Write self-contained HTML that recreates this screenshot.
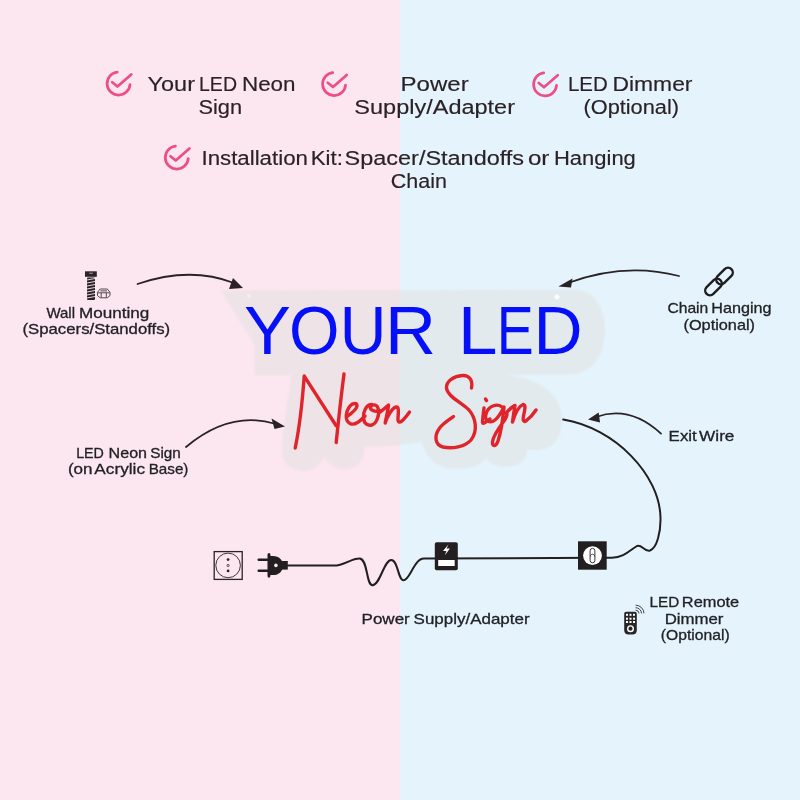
<!DOCTYPE html>
<html><head><meta charset="utf-8">
<style>
html,body{margin:0;padding:0;width:800px;height:800px;overflow:hidden;}
svg{display:block;will-change:transform;}
text{font-family:"Liberation Sans",sans-serif;}
.t{fill:#2a2226;font-size:19.5px;stroke:#2a2226;stroke-width:0.15px;}
.l{fill:#222226;font-size:15px;stroke:#222226;stroke-width:0.3px;}
.ck{fill:none;stroke:#ee4e86;stroke-width:2.6;stroke-linecap:round;stroke-linejoin:round;}
.ar{fill:none;stroke:#2a2226;stroke-width:1.8;stroke-linecap:round;}
.ah{fill:#2a2226;}
.w{fill:none;stroke:#231f20;stroke-width:2;stroke-linecap:round;stroke-linejoin:round;}
.neon{fill:none;stroke:#e0242c;stroke-width:3.4;stroke-linecap:round;stroke-linejoin:round;}
</style></head>
<body>
<svg width="800" height="800" viewBox="0 0 800 800">
  <rect x="0" y="0" width="400" height="800" fill="#fce6ef"/>
  <rect x="400" y="0" width="400" height="800" fill="#e5f4fc"/>

  <!-- checklist -->
  <g transform="translate(118.60,83.60) scale(1.05)">
    <path class="ck" d="M-1.3,-10.9 A10.95,10.95 0 1 0 10.9,0.9"/>
    <path class="ck" d="M-6.05,-1.3 L-1.05,2.75 L12.05,-8.7"/>
  </g>
  <g transform="translate(334.10,84.10) scale(1.05)">
    <path class="ck" d="M-1.3,-10.9 A10.95,10.95 0 1 0 10.9,0.9"/>
    <path class="ck" d="M-6.05,-1.3 L-1.05,2.75 L12.05,-8.7"/>
  </g>
  <g transform="translate(545.10,84.40) scale(1.05)">
    <path class="ck" d="M-1.3,-10.9 A10.95,10.95 0 1 0 10.9,0.9"/>
    <path class="ck" d="M-6.05,-1.3 L-1.05,2.75 L12.05,-8.7"/>
  </g>
  <g transform="translate(176.80,157.60) scale(1.05)">
    <path class="ck" d="M-1.3,-10.9 A10.95,10.95 0 1 0 10.9,0.9"/>
    <path class="ck" d="M-6.05,-1.3 L-1.05,2.75 L12.05,-8.7"/>
  </g>


  <!-- sign backing -->
  <defs><filter id="soft" x="-5%" y="-5%" width="110%" height="110%"><feGaussianBlur stdDeviation="0.8"/></filter></defs>
  <path filter="url(#soft)" fill="#e0e0e0" fill-opacity="0.5" d="M221,290.5 L575,289.5 C593,289.5 605,306 605,330 C605,356 592,375 567,375 L500,375 C540,376 562,395 562,420 C562,436 556,447 541,450 C536,451 530,450 527,450 C527,462 517,467 505,467 C495,467 489,463 486,458 C483,465 470,469 455,469 C438,469 425,458 422,442 C410,444 395,446 364,447 C364,464 355,469 344,469 C334,469 327,463 324,456 C321,464 314,471 304,471 C290,471 282,461 282,450 C283,428 288,400 291.5,375 L254.5,375 L254.5,344 Z"/>
  <circle cx="557" cy="297" r="2.5" fill="#ffffff" fill-opacity="0.85"/>
  <circle cx="249" cy="296" r="2" fill="#ffffff" fill-opacity="0.4"/>

  <g font-size="68.5" fill="#0510f8"><text x="244.07" y="353.8" textLength="46.87" lengthAdjust="spacingAndGlyphs">Y</text><text x="289.10" y="353.8" textLength="50.52" lengthAdjust="spacingAndGlyphs">O</text><text x="339.86" y="353.8" textLength="46.62" lengthAdjust="spacingAndGlyphs">U</text><text x="385.11" y="353.8" textLength="51.00" lengthAdjust="spacingAndGlyphs">R</text><text x="458.08" y="353.8" textLength="39.44" lengthAdjust="spacingAndGlyphs">L</text><text x="496.64" y="353.8" textLength="36.94" lengthAdjust="spacingAndGlyphs">E</text><text x="533.53" y="353.8" textLength="49.09" lengthAdjust="spacingAndGlyphs">D</text></g>

  <!-- Neon Sign script -->
  <g class="neon">
    <path d="M295.2,448 C300,425 302.5,400 304.2,376 C315,393 326,410 336,425.5"/>
    <path d="M344,374 C341,397 338.5,420 336.2,442.5"/>
    <path d="M346.5,417 C352,413 357,409 357,406 C357,403 353,402.5 350,406 C346,411 344,420 350,423.5 C355,426 360,421 365,416"/>
    <path d="M372,404.5 C366,404.5 363,412 363.5,418 C364,424 368,426 372,425 C377,423 380,414 378,408 C376.5,404 372.5,404 370.5,407 C370,410 374,412 380,411"/>
    <path d="M380,412 C383,410 386,407 388.5,405 C388,411 386,418 385.2,423 C387,417 392,408 396,407 C399,406 398.5,412 398,418 C397.5,423 400,423 403,420 C406,417 408,414 409.5,412"/>
    <path d="M471.5,388 C473,380 469,375 462.5,375.5 C454,376 446,381 446.5,388 C447,396 462,403 469,410 C476,418 478,431 471,440 C465,447 452,449 443,447 C435,445 434,436 439,429 C442,424 449,420 453.5,416.5"/>
    <path d="M485.5,399 L486.5,400.5"/>
    <path d="M484,408 C483.5,413 482.5,419 482.5,422.5 C483,425 487,421 490,419"/>
    <path d="M502,407 C497,403 488,406 486,414 C484,421 490,424 495,420 C499,417 502,411 504,407 C503,418 501,432 498,441 C496,447 492,447 492.5,442 C493,436 498,429 504,421 C506,418 507,415 507,414"/>
    <path d="M506,413 C509,410 512.5,406 515,405.5 C514,411 513,418 512.5,422 C515,414 519,406 523,404.5 C526,404 525,410 523.5,416 C522.5,421 524,423 527,420 C531,417 534,413 536,410"/>
  </g>
<!-- arrows -->
  <path class="ar" d="M137.5,284 Q190,266 234,283"/>
  <path class="ah" d="M243,288 L233,278 L229,289 Z"/>
  <path class="ar" d="M679,276 Q625,262 568,283"/>
  <path class="ah" d="M558.4,286.5 L572.5,278.4 L571,287.4 Z"/>
  <path class="ar" d="M661,433.7 Q630,405 596,417"/>
  <path class="ah" d="M588,419.5 L598.7,412.5 L600,422.5 Z"/>
  <path class="ar" d="M186,447 Q230,410 276,424"/>
  <path class="ah" d="M285,426.6 L271.5,418.5 L274.5,429 Z"/>

  <!-- labels -->
  <text class="t" x="147.57" y="90.50" font-size="19.60" textLength="47.43" lengthAdjust="spacingAndGlyphs" style="word-spacing:0.00px">Your</text>
  <text class="t" x="198.97" y="90.50" font-size="19.60" textLength="38.03" lengthAdjust="spacingAndGlyphs" style="word-spacing:0.00px">LED</text>
  <text class="t" x="241.96" y="90.50" font-size="19.60" textLength="53.59" lengthAdjust="spacingAndGlyphs" style="word-spacing:0.00px">Neon</text>
  <text class="t" x="198.44" y="113.75" font-size="19.60" textLength="43.61" lengthAdjust="spacingAndGlyphs" style="word-spacing:-2.50px">Sign</text>
  <text class="t" x="400.55" y="90.50" font-size="19.60" textLength="68.17" lengthAdjust="spacingAndGlyphs" style="word-spacing:-2.50px">Power</text>
  <text class="t" x="354.39" y="113.75" font-size="19.60" textLength="160.61" lengthAdjust="spacingAndGlyphs" style="word-spacing:-2.50px">Supply/Adapter</text>
  <text class="t" x="567.96" y="90.50" font-size="19.60" textLength="39.82" lengthAdjust="spacingAndGlyphs" style="word-spacing:0.00px">LED</text>
  <text class="t" x="612.46" y="90.50" font-size="19.60" textLength="80.05" lengthAdjust="spacingAndGlyphs" style="word-spacing:0.00px">Dimmer</text>
  <text class="t" x="583.48" y="113.75" font-size="19.60" textLength="95.55" lengthAdjust="spacingAndGlyphs" style="word-spacing:-2.50px">(Optional)</text>
  <text class="t" x="201.46" y="165.00" font-size="19.60" textLength="106.46" lengthAdjust="spacingAndGlyphs" style="word-spacing:0.00px">Installation</text>
  <text class="t" x="310.77" y="165.00" font-size="19.60" textLength="32.14" lengthAdjust="spacingAndGlyphs" style="word-spacing:0.00px">Kit:</text>
  <text class="t" x="344.58" y="165.00" font-size="19.60" textLength="179.53" lengthAdjust="spacingAndGlyphs" style="word-spacing:0.00px">Spacer/Standoffs</text>
  <text class="t" x="527.95" y="165.00" font-size="19.60" textLength="21.48" lengthAdjust="spacingAndGlyphs" style="word-spacing:0.00px">or</text>
  <text class="t" x="553.97" y="165.00" font-size="19.60" textLength="81.86" lengthAdjust="spacingAndGlyphs" style="word-spacing:0.00px">Hanging</text>
  <text class="t" x="390.77" y="188.00" font-size="19.60" textLength="56.08" lengthAdjust="spacingAndGlyphs" style="word-spacing:-2.50px">Chain</text>
  <text class="l" x="46.46" y="317.70" font-size="13.20" textLength="28.54" lengthAdjust="spacingAndGlyphs" style="word-spacing:0.00px">Wall</text>
  <text class="l" x="78.97" y="317.70" font-size="13.20" textLength="70.35" lengthAdjust="spacingAndGlyphs" style="word-spacing:0.00px">Mounting</text>
  <text class="l" x="22.49" y="334.00" font-size="13.20" textLength="147.72" lengthAdjust="spacingAndGlyphs" style="word-spacing:-2.00px">(Spacers/Standoffs)</text>
  <text class="l" x="667.45" y="312.50" font-size="13.20" textLength="40.85" lengthAdjust="spacingAndGlyphs" style="word-spacing:0.00px">Chain</text>
  <text class="l" x="711.23" y="312.50" font-size="13.20" textLength="60.31" lengthAdjust="spacingAndGlyphs" style="word-spacing:0.00px">Hanging</text>
  <text class="l" x="683.47" y="329.50" font-size="13.20" textLength="71.54" lengthAdjust="spacingAndGlyphs" style="word-spacing:-2.00px">(Optional)</text>
  <text class="l" x="668.61" y="440.50" font-size="13.20" textLength="28.20" lengthAdjust="spacingAndGlyphs" style="word-spacing:0.00px">Exit</text>
  <text class="l" x="699.10" y="440.50" font-size="13.20" textLength="35.33" lengthAdjust="spacingAndGlyphs" style="word-spacing:0.00px">Wire</text>
  <text class="l" x="76.14" y="458.10" font-size="13.20" textLength="27.77" lengthAdjust="spacingAndGlyphs" style="word-spacing:0.00px">LED</text>
  <text class="l" x="108.58" y="458.10" font-size="13.20" textLength="38.44" lengthAdjust="spacingAndGlyphs" style="word-spacing:0.00px">Neon</text>
  <text class="l" x="150.26" y="458.10" font-size="13.20" textLength="30.57" lengthAdjust="spacingAndGlyphs" style="word-spacing:0.00px">Sign</text>
  <text class="l" x="67.95" y="473.80" font-size="13.20" textLength="24.62" lengthAdjust="spacingAndGlyphs" style="word-spacing:0.00px">(on</text>
  <text class="l" x="94.38" y="473.80" font-size="13.20" textLength="50.62" lengthAdjust="spacingAndGlyphs" style="word-spacing:0.00px">Acrylic</text>
  <text class="l" x="148.68" y="473.80" font-size="13.20" textLength="39.75" lengthAdjust="spacingAndGlyphs" style="word-spacing:0.00px">Base)</text>
  <text class="l" x="361.56" y="624.25" font-size="13.20" textLength="48.24" lengthAdjust="spacingAndGlyphs" style="word-spacing:0.00px">Power</text>
  <text class="l" x="413.58" y="624.25" font-size="13.20" textLength="116.03" lengthAdjust="spacingAndGlyphs" style="word-spacing:0.00px">Supply/Adapter</text>
  <text class="l" x="649.57" y="606.60" font-size="13.20" textLength="29.67" lengthAdjust="spacingAndGlyphs" style="word-spacing:0.00px">LED</text>
  <text class="l" x="681.87" y="606.60" font-size="13.20" textLength="57.34" lengthAdjust="spacingAndGlyphs" style="word-spacing:0.00px">Remote</text>
  <text class="l" x="664.67" y="623.60" font-size="13.20" textLength="58.73" lengthAdjust="spacingAndGlyphs" style="word-spacing:-2.00px">Dimmer</text>
  <text class="l" x="660.79" y="639.50" font-size="13.20" textLength="68.83" lengthAdjust="spacingAndGlyphs" style="word-spacing:-2.00px">(Optional)</text>

  <!-- wires -->
  <path class="w" d="M288,565.6 L334,565.6 C344,565.6 351,558.5 359.4,558.5 C368,558.5 366,585.3 372.5,585.3 C380,585.3 384,560 391.3,560 C398,560 398,580.3 403.5,580.3 C410,580.3 414,558.6 424,558.6 L600,557.8"/>
  <path class="w" d="M563.2,419.6 C615,428 660,475 660.5,518 C660.8,532 657,548 650,550.5 C644,552 642,544 637,546 C630,550 624,557.7 612,557.8 L604,557.8"/>

  <!-- outlet -->
  <g fill="none" stroke="#2b2326" stroke-width="1.3">
    <rect x="214.2" y="551.6" width="28" height="27.8"/>
    <circle cx="228.1" cy="565.4" r="12.3" stroke-width="0.9"/>
    <circle cx="228.1" cy="565.5" r="1.1" stroke-width="0.8"/>
  </g>
  <circle cx="228.1" cy="559.6" r="1.4" fill="#2b2326"/>
  <circle cx="228.1" cy="570.9" r="1.4" fill="#2b2326"/>
  <!-- plug -->
  <g fill="#231f20">
    <rect x="257.5" y="558.4" width="11" height="2.6" rx="1.2"/>
    <rect x="257.5" y="569.4" width="11" height="2.6" rx="1.2"/>
    <path d="M267.5,554.5 Q267.5,553 269,553 Q270.5,553 270.5,556 L273,556 C279,556 283,560 283,565.4 C283,571 279,575 273,575 L270.5,575 Q270.5,577.8 269,577.8 Q267.5,577.8 267.5,576 Z"/>
    <rect x="282" y="561" width="5.8" height="8.6"/>
  </g>
  <circle cx="275.9" cy="565.4" r="1.8" fill="#fce6ef"/>
  <!-- power supply -->
  <rect x="434.8" y="542.2" width="23" height="28" rx="1.8" fill="#231f20"/>
  <rect x="438.2" y="560" width="16.5" height="6" fill="#ffffff"/>
  <path d="M448.4,544.5 L443,550.9 L446.4,550.9 L444.9,555.2 L449.9,548.6 L446.6,548.6 Z" fill="#ffffff"/>
  <!-- dimmer box -->
  <rect x="578" y="541.3" width="28.7" height="28.4" fill="#231f20"/>
  <circle cx="592.5" cy="555.6" r="9.4" fill="#ffffff"/>
  <rect x="590.1" y="548.4" width="4.8" height="14.4" rx="2.4" fill="none" stroke="#231f20" stroke-width="0.9"/>
  <path d="M590.3,556.5 C590.5,553.5 594.5,553.5 594.7,556.5" fill="none" stroke="#231f20" stroke-width="0.8"/>
  <!-- remote -->
  <path d="M626.2,611.8 L634.8,611.8 Q636.8,611.8 636.8,613.8 L636.8,630 Q636.8,634.5 632.3,634.5 L628.7,634.5 Q624.2,634.5 624.2,630 L624.2,613.8 Q624.2,611.8 626.2,611.8 Z" fill="#262628"/>
  <g fill="#ffffff">
    <rect x="626" y="613.8" width="2" height="2"/><rect x="629.5" y="613.8" width="2" height="2"/><rect x="633" y="613.8" width="2" height="2"/>
    <rect x="626" y="617.7" width="2" height="2"/><rect x="629.5" y="617.7" width="2" height="2"/><rect x="633" y="617.7" width="2" height="2"/>
    <rect x="626" y="621" width="2" height="2"/><rect x="629.5" y="621" width="2" height="2"/><rect x="633" y="621" width="2" height="2"/>
  </g>
  <circle cx="630.5" cy="628.7" r="2.8" fill="none" stroke="#ffffff" stroke-width="1.4"/>
  <g fill="none" stroke="#2e2e30" stroke-width="0.9" stroke-linecap="round">
    <path d="M636,610.2 A3,3 0 0 1 639,613"/>
    <path d="M636,607.7 A5.5,5.5 0 0 1 641.5,613"/>
    <path d="M636,605.2 A8,8 0 0 1 644,613"/>
  </g>
  <!-- chain icon -->
  <g fill="none" stroke="#1f1d1f" stroke-width="2.4">
    <rect x="714.75" y="271.25" width="19.5" height="9.5" rx="4.75" transform="rotate(-45 724.5 276)"/>
    <rect x="703.75" y="282.25" width="19.5" height="9.5" rx="4.75" transform="rotate(-45 713.5 287)"/>
  </g>
  <!-- screw + nut -->
  <rect x="85" y="271.3" width="11.8" height="5.5" fill="#2b2326"/>
  <rect x="87" y="277.5" width="8" height="22.5" rx="1" fill="#2b2326"/>
  <g stroke="#fce6ef" stroke-width="0.9">
    <line x1="87" y1="280" x2="95" y2="278.5"/>
    <line x1="87" y1="283" x2="95" y2="281.5"/>
    <line x1="87" y1="286" x2="95" y2="284.5"/>
    <line x1="87" y1="289" x2="95" y2="287.5"/>
    <line x1="87" y1="292" x2="95" y2="290.5"/>
    <line x1="87" y1="295" x2="95" y2="293.5"/>
    <line x1="87" y1="298" x2="95" y2="296.5"/>
  </g>
  <g fill="none" stroke="#3a3034" stroke-width="0.85" stroke-linejoin="round">
    <path d="M100.2,289 L107.3,289 L110,292.3 L110,295.6 L107.3,297.8 L100.2,297.8 L97.5,295.6 L97.5,292.3 Z"/>
    <path d="M97.8,292.8 L109.7,292.8 M101.2,292.8 L101.2,297.6 M106.3,292.8 L106.3,297.6 M100.5,290.9 L107,290.9"/>
  </g>
  <rect x="89.3" y="272.6" width="3.5" height="1.3" fill="#fce6ef" fill-opacity="0.5"/>
</svg>
</body></html>
